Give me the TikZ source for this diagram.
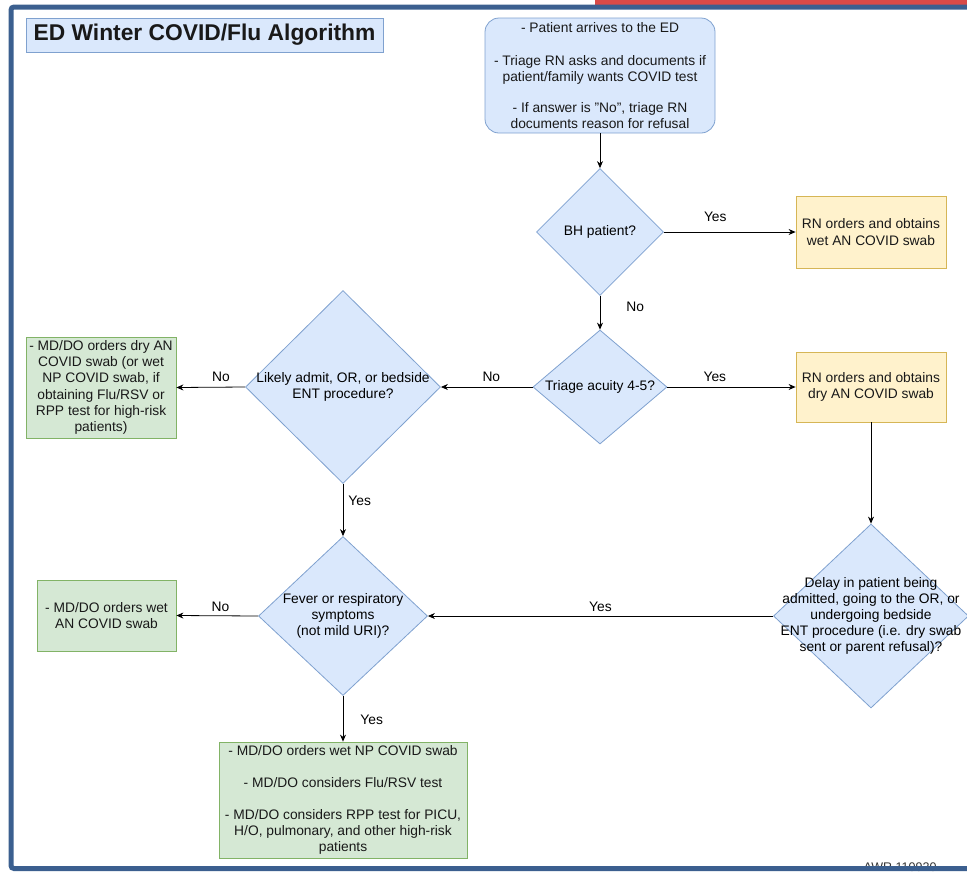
\documentclass[tikz,border=0pt]{standalone}
\usepackage{fontspec}
\setmainfont{Liberation Sans}
\usetikzlibrary{positioning,arrows.meta,shapes.geometric}
\definecolor{bluefill}{HTML}{DAE8FC}
\definecolor{bluedraw}{HTML}{7FA1CF}
\definecolor{yelfill}{HTML}{FFF2CC}
\definecolor{yeldraw}{HTML}{D6B656}
\definecolor{grnfill}{HTML}{D5E8D4}
\definecolor{grndraw}{HTML}{82B366}
\definecolor{framecol}{HTML}{3B5F8F}
\definecolor{framered}{HTML}{D94A47}
\begin{document}
\begin{tikzpicture}[x=1pt,y=-1pt,
  font=\fontsize{13.8}{16.2}\selectfont, >=Stealth,
  box/.style={draw,align=center,inner sep=0pt,line width=0.8pt,text=black!90},
  start/.style={box,fill=bluefill,draw=bluedraw,rounded corners=14pt},
  rn/.style={box,fill=yelfill,draw=yeldraw,minimum width=150pt},
  md/.style={box,fill=grnfill,draw=grndraw},
  dec/.style={diamond,draw=bluedraw,fill=bluefill,line width=0.8pt,inner sep=0pt},
  flow/.style={-{Stealth[length=7pt,width=6pt]},line width=0.8pt},
  lab/.style={inner sep=0pt},
]
\useasboundingbox (0,0) rectangle (967,871);
% title
\node[box,fill=bluefill,draw=bluedraw,minimum width=357pt,minimum height=34pt,
      font=\fontsize{22.8}{26}\selectfont\bfseries] (title) at (204.5,35) {ED Winter COVID/Flu Algorithm};
% arrival
\node[start,minimum width=230pt,minimum height=115pt] (arrive) at (600,75.5)
  {- Patient arrives to the ED\\[17pt]- Triage RN asks and documents if\\patient/family wants COVID test\\[15pt]- If answer is "No", triage RN\\documents reason for refusal};
% decisions
\node[dec,minimum width=127pt,minimum height=127pt,label={center:BH patient?}] (bh) at (600,232) {};
\node[dec,minimum width=134pt,minimum height=114pt,label={center:Triage acuity 4-5?}] (acuity) at (600,387) {};
\node[dec,minimum width=195pt,minimum height=193pt,
      label={[align=center]center:Likely admit, OR, or bedside\\ENT procedure?}] (admit) at (343,387) {};
\node[dec,minimum width=169pt,minimum height=159pt,
      label={[align=center]center:Fever or respiratory\\symptoms\\(not mild URI)?}] (fever) at (343,616) {};
\node[dec,minimum width=195pt,minimum height=184pt,
      label={[align=center]center:Delay in patient being\\admitted, going to the OR, or\\undergoing bedside\\ENT procedure (i.e. dry swab\\sent or parent refusal)?}] (delay) at (871,616) {};
% RN swabs
\node[rn,minimum height=72pt] (wetrn) at (871,232) {RN orders and obtains\\wet AN COVID swab};
\node[rn,minimum height=70pt] (dryrn) at (871,387) {RN orders and obtains\\dry AN COVID swab};
% MD/DO swabs
\node[md,minimum width=150pt,minimum height=101pt] (drymd) at (101,387.5)
  {- MD/DO orders dry AN\\COVID swab (or wet\\NP COVID swab, if\\obtaining Flu/RSV or\\RPP test for high-risk\\patients)};
\node[md,minimum width=139pt,minimum height=71pt] (wetan) at (106.5,615.5) {- MD/DO orders wet\\AN COVID swab};
\node[md,minimum width=248pt,minimum height=116pt] (wetnp) at (343,800)
  {- MD/DO orders wet NP COVID swab\\[16pt]- MD/DO considers Flu/RSV test\\[16pt]- MD/DO considers RPP test for PICU,\\H/O, pulmonary, and other high-risk\\patients};
% connectors
\draw[flow] (arrive.south) -- (bh.north);
\draw[flow] (bh.east) -- node[lab,pos=0.39,above=10pt]{Yes} (wetrn.west);
\draw[flow] (bh.south) -- node[lab,pos=0.31,right=26pt]{No} (acuity.north);
\draw[flow] (acuity.east) -- node[lab,pos=0.37,above=5pt]{Yes} (dryrn.west);
\draw[flow] (acuity.west) -- node[lab,pos=0.45,above=5pt]{No} (admit.east);
\draw[flow] (admit.west) -- node[lab,pos=0.35,above=5pt]{No} (drymd.east);
\draw[flow] (admit.south) -- node[lab,pos=0.33,right=5pt]{Yes} (fever.north);
\draw[flow] (fever.west) -- node[lab,pos=0.46,above=4pt]{No} (wetan.east);
\draw[flow] (fever.south) -- node[lab,pos=0.52,right=17pt]{Yes} (wetnp.north);
\draw[flow] (dryrn.south) -- (delay.north);
\draw[flow] (delay.west) -- node[lab,pos=0.5,above=4pt]{Yes} (fever.east);
% frame
\node[lab,text=black!80,font=\fontsize{12.5}{14}\selectfont] (awr) at (900,867.5) {AWR 110920};
\fill[framered] (595,0) rectangle (967,4.5);
\draw[framecol,line width=5pt,rounded corners=3pt] (967,7) -- (11,7) -- (11,868.5) -- (967,868.5);
\end{tikzpicture}
\end{document}
